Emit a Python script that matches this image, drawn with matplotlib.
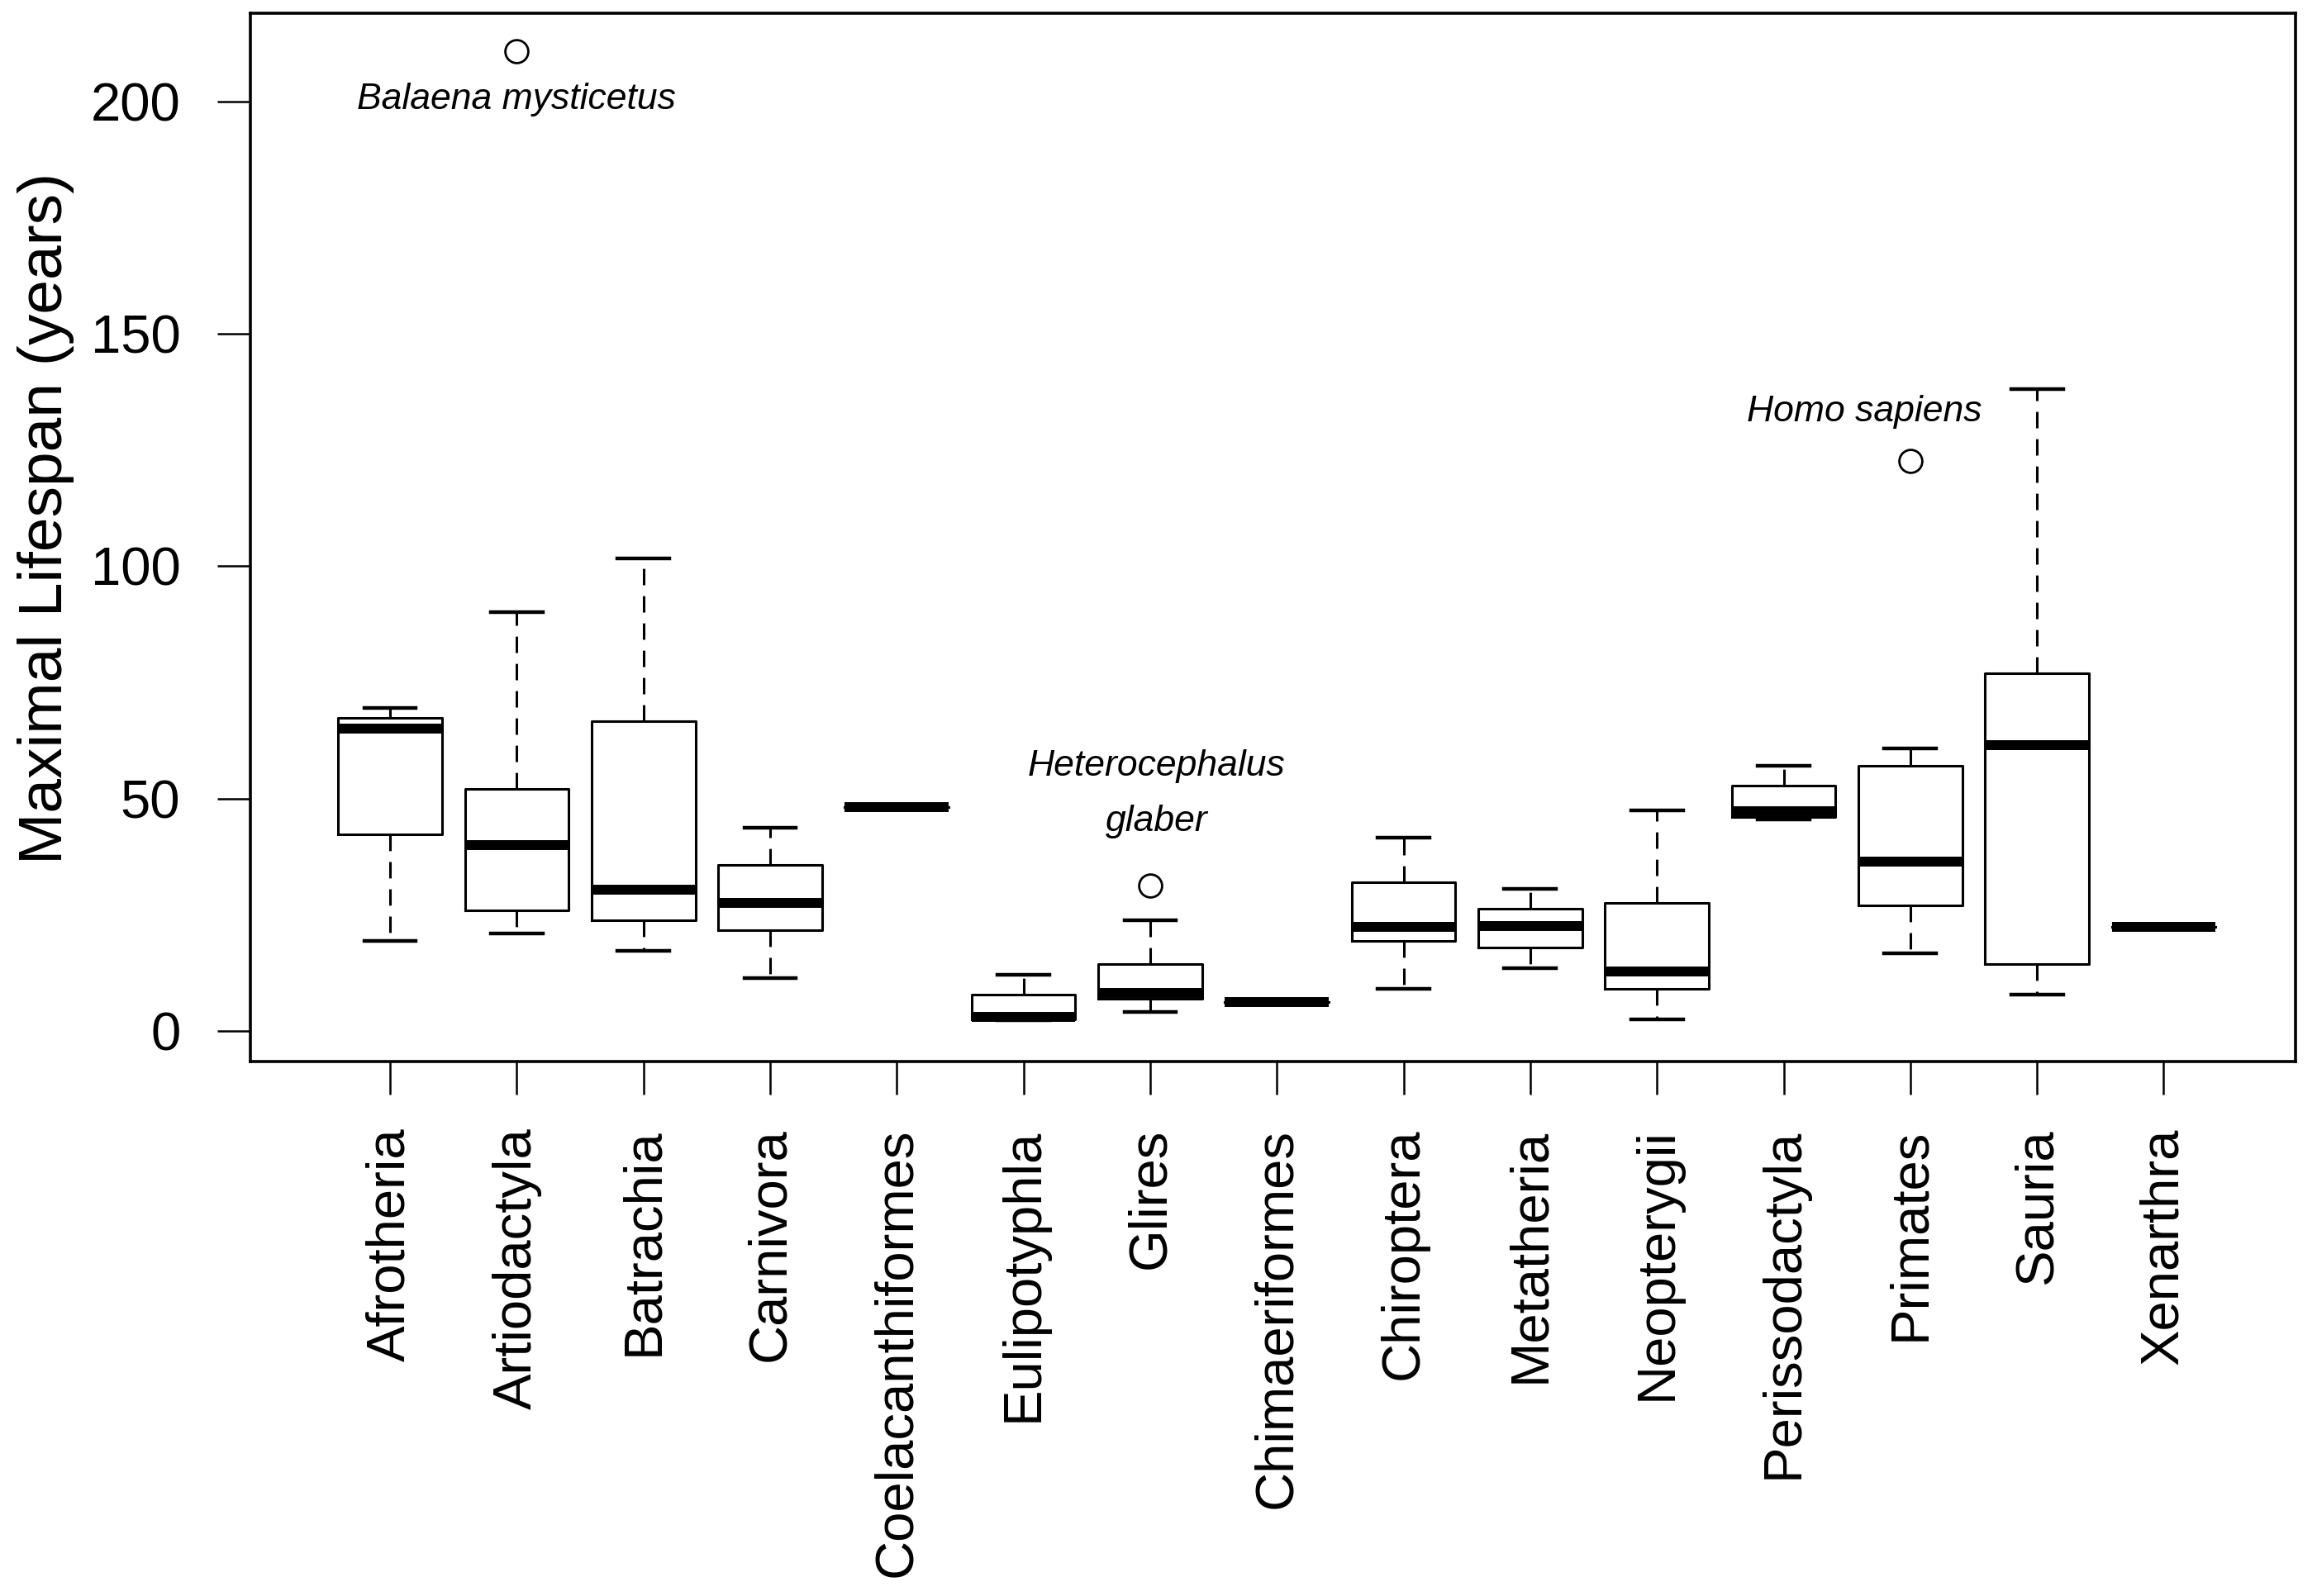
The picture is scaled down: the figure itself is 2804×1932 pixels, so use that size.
import matplotlib
matplotlib.use("Agg")
import matplotlib.pyplot as plt

plt.rcParams['font.family'] = ['Liberation Sans', 'DejaVu Sans']

# groups and box statistics (years)
groups = ["Afrotheria", "Artiodactyla", "Batrachia", "Carnivora", "Coelacanthiformes",
          "Eulipotyphla", "Glires", "Chimaeriformes", "Chiroptera", "Metatheria",
          "Neopterygii", "Perissodactyla", "Primates", "Sauria", "Xenarthra"]
whislo = [19.4, 20.9, 17.3, 11.4, 48.1, 2.3, 4.0, 6.2, 9.1, 13.5, 2.5, 45.5, 16.6, 7.8, 22.4]
q1 = [42.3, 26.0, 23.8, 21.7, 48.1, 2.4, 6.9, 6.2, 19.3, 17.9, 9.1, 46.0, 27.0, 14.4, 22.4]
med = [65.1, 40.0, 30.4, 27.5, 48.1, 3.0, 8.2, 6.2, 22.4, 22.5, 12.8, 47.2, 36.4, 61.5, 22.4]
q3 = [67.4, 52.1, 66.7, 35.7, 48.1, 7.8, 14.3, 6.2, 31.9, 26.2, 27.5, 52.7, 57.1, 76.9, 22.4]
whishi = [69.5, 90.1, 101.7, 43.7, 48.1, 12.1, 23.8, 6.2, 41.6, 30.5, 47.5, 57.1, 60.8, 138.1, 22.4]
fliers = {"Artiodactyla": [210.9], "Glires": [31.2], "Primates": [122.6]}

# labelled outliers
notes = [("Balaena mysticetus", 2.0, 200.5),
         ("Heterocephalus", 7.05, 57.0),
         ("glaber", 7.05, 45.0),
         ("Homo sapiens", 12.64, 133.3)]

stats = []
for i, g in enumerate(groups):
    stats.append(dict(label=g, whislo=whislo[i], q1=q1[i], med=med[i],
                      q3=q3[i], whishi=whishi[i], fliers=fliers.get(g, [])))

fig = plt.figure(figsize=(28.04, 19.32), dpi=100)
ax = fig.add_axes([0.1081, 0.3349, 0.9907 - 0.1081, 0.9917 - 0.3349])

pos = list(range(1, len(groups) + 1))
ax.bxp(stats, positions=pos, widths=0.82, capwidths=0.41, showfliers=True,
       boxprops=dict(color="black", linewidth=2.2),
       medianprops=dict(color="black", linewidth=8.6, solid_capstyle="butt"),
       whiskerprops=dict(color="black", linewidth=2.2, linestyle=(0, (6.5, 4.3))),
       capprops=dict(color="black", linewidth=3.2),
       flierprops=dict(marker="o", markersize=20, markerfacecolor="none",
                       markeredgecolor="black", markeredgewidth=2.0))

for txt, x, y in notes:
    ax.text(x, y, txt, ha="center", va="center", fontsize=32, style="italic",
            family=["Liberation Sans Narrow", "Liberation Sans"])

ax.set_xlim(-0.102, 16.04)
ax.set_ylim(-6.6, 219.0)
ax.set_yticks([0, 50, 100, 150, 200])
ax.set_xticks(pos)
ax.set_xticklabels(groups, rotation=90)
ax.tick_params(axis="both", labelsize=47, length=29, width=1.8, direction="out")
ax.tick_params(axis="x", pad=29)
ax.tick_params(axis="y", pad=32)
for s in ax.spines.values():
    s.set_linewidth(2.6)

ax.set_ylabel("Maximal Lifespan (years)", fontsize=54)
ax.yaxis.set_label_coords(-0.086, 0.5185)

fig.savefig("out.png", dpi=100)
